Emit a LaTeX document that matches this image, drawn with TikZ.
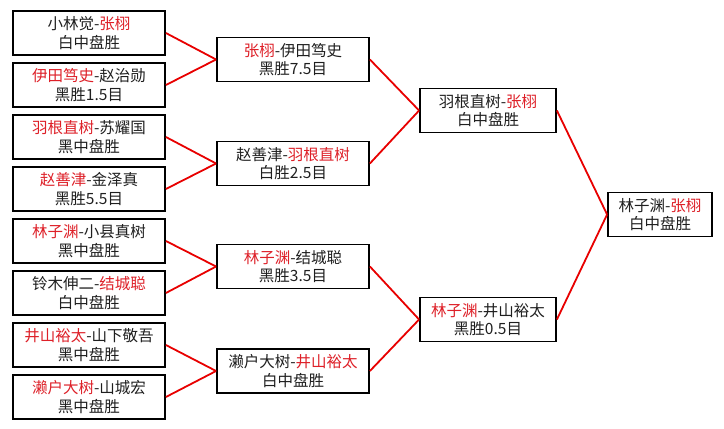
\documentclass[tikz,border=0pt]{standalone}
\usepackage{fontspec}
\setmainfont{Noto Sans CJK SC}
\definecolor{wred}{RGB}{222,32,40}
\definecolor{lred}{RGB}{232,0,0}
\newcommand{\rd}[1]{\textcolor{wred}{#1}}
\begin{document}
\begin{tikzpicture}[x=1pt,y=-1pt,
  box/.style={draw=black, line width=1.8pt, align=center, inner sep=0pt,
    minimum height=44pt, font=\fontsize{15.5}{18.5}\selectfont, text=black!88},
  b1/.style={box, minimum width=152pt},
  b3/.style={box, minimum width=136pt},
  b4/.style={box, minimum width=104pt},
  link/.style={draw=lred, line width=1.8pt}]
\useasboundingbox[fill=white] (0,0) rectangle (724,429);
% first round
\node[b1] (c1) at (89,33)  {小林觉-\rd{张栩}\\白中盘胜};
\node[b1] (c2) at (89,85)  {\rd{伊田笃史}-赵治勋\\黑胜1.5目};
\node[b1] (c3) at (89,137) {\rd{羽根直树}-苏耀国\\黑中盘胜};
\node[b1] (c4) at (89,189) {\rd{赵善津}-金泽真\\黑胜5.5目};
\node[b1] (c5) at (89,241) {\rd{林子渊}-小县真树\\黑中盘胜};
\node[b1] (c6) at (89,293) {铃木伸二-\rd{结城聪}\\白中盘胜};
\node[b1] (c7) at (89,345) {\rd{井山裕太}-山下敬吾\\黑中盘胜};
\node[b1] (c8) at (89,397) {\rd{濑户大树}-山城宏\\黑中盘胜};
% second round
\node[b1] (m1) at (293,59.5)  {\rd{张栩}-伊田笃史\\黑胜7.5目};
\node[b1] (m2) at (293,163.5) {赵善津-\rd{羽根直树}\\白胜2.5目};
\node[b1] (m3) at (293,266.5) {\rd{林子渊}-结城聪\\黑胜3.5目};
\node[b1] (m4) at (293,371)   {濑户大树-\rd{井山裕太}\\白中盘胜};
% semifinals
\node[b3] (s1) at (488,110.5) {羽根直树-\rd{张栩}\\白中盘胜};
\node[b3] (s2) at (488,319.5) {\rd{林子渊}-井山裕太\\黑胜0.5目};
% final
\node[b4] (f) at (660,214.5) {林子渊-\rd{张栩}\\白中盘胜};
% connectors
\draw[link] (c1.east) -- (m1.west);
\draw[link] (c2.east) -- (m1.west);
\draw[link] (c3.east) -- (m2.west);
\draw[link] (c4.east) -- (m2.west);
\draw[link] (c5.east) -- (m3.west);
\draw[link] (c6.east) -- (m3.west);
\draw[link] (c7.east) -- (m4.west);
\draw[link] (c8.east) -- (m4.west);
\draw[link] (m1.east) -- (s1.west);
\draw[link] (m2.east) -- (s1.west);
\draw[link] (m3.east) -- (s2.west);
\draw[link] (m4.east) -- (s2.west);
\draw[link] (s1.east) -- (f.west);
\draw[link] (s2.east) -- (f.west);
\end{tikzpicture}
\end{document}
